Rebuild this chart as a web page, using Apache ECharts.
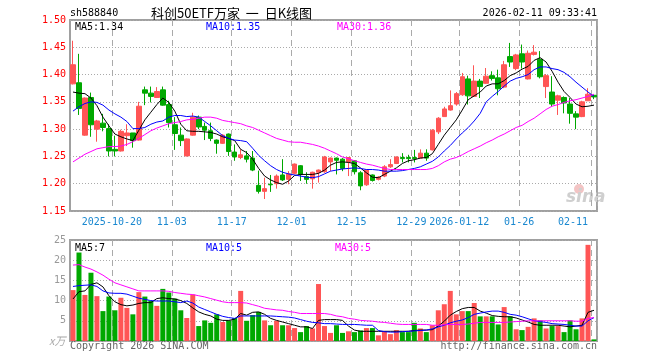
<!DOCTYPE html>
<html><head><meta charset="utf-8">
<script src="https://cdn.jsdelivr.net/npm/echarts@6/dist/echarts.min.js"></script>
<style>html,body{margin:0;padding:0;background:#fff}#c{width:660px;height:360px}</style>
</head><body><div id="c"></div>
<script>
const dates = [
'2025-10-09','2025-10-10','2025-10-13','2025-10-14','2025-10-15','2025-10-16','2025-10-17','2025-10-20','2025-10-21','2025-10-22',
'2025-10-23','2025-10-24','2025-10-27','2025-10-28','2025-10-29','2025-10-30','2025-10-31','2025-11-03','2025-11-04','2025-11-05',
'2025-11-06','2025-11-07','2025-11-10','2025-11-11','2025-11-12','2025-11-13','2025-11-14','2025-11-17','2025-11-18','2025-11-19',
'2025-11-20','2025-11-21','2025-11-24','2025-11-25','2025-11-26','2025-11-27','2025-11-28','2025-12-01','2025-12-02','2025-12-03',
'2025-12-04','2025-12-05','2025-12-08','2025-12-09','2025-12-10','2025-12-11','2025-12-12','2025-12-15','2025-12-16','2025-12-17',
'2025-12-18','2025-12-19','2025-12-22','2025-12-23','2025-12-24','2025-12-25','2025-12-26','2025-12-29','2025-12-30','2025-12-31',
'2026-01-05','2026-01-06','2026-01-07','2026-01-08','2026-01-09','2026-01-12','2026-01-13','2026-01-14','2026-01-15','2026-01-16',
'2026-01-19','2026-01-20','2026-01-21','2026-01-22','2026-01-23','2026-01-26','2026-01-27','2026-01-28','2026-01-29','2026-01-30',
'2026-02-02','2026-02-03','2026-02-04','2026-02-05','2026-02-06','2026-02-09','2026-02-10','2026-02-11'];

const tickDates  = ['2025-10-20','2025-11-03','2025-11-17','2025-12-01','2025-12-15','2025-12-29','2026-01-12','2026-01-26','2026-02-11'];
const tickLabels = ['2025-10-20','11-03','11-17','12-01','12-15','12-29','2026-01-12','01-26','02-11'];
const priceTicks = [1.15,1.20,1.25,1.30,1.35,1.40,1.45,1.50];
const volTicks = [0,5,10,15,20,25];

const opens = [1.383,1.385,1.289,1.358,1.300,1.311,1.301,1.263,1.260,1.288,
1.293,1.280,1.372,1.366,1.358,1.372,1.345,1.308,1.289,1.251,
1.289,1.322,1.305,1.297,1.280,1.274,1.291,1.258,1.248,1.251,
1.247,1.197,1.186,1.199,1.200,1.216,1.208,1.219,1.233,1.213,
1.209,1.221,1.222,1.240,1.247,1.245,1.240,1.242,1.220,1.198,
1.216,1.208,1.214,1.231,1.237,1.248,1.248,1.248,1.247,1.256,
1.262,1.295,1.323,1.335,1.346,1.363,1.392,1.360,1.388,1.384,
1.398,1.394,1.377,1.433,1.411,1.438,1.392,1.437,1.428,1.378,
1.368,1.353,1.358,1.346,1.328,1.323,1.352,1.362];
const closes = [1.418,1.338,1.357,1.308,1.315,1.303,1.260,1.260,1.296,1.293,
1.279,1.342,1.366,1.360,1.369,1.344,1.312,1.292,1.279,1.282,
1.322,1.304,1.298,1.283,1.274,1.289,1.259,1.249,1.253,1.245,
1.225,1.186,1.191,1.198,1.214,1.207,1.218,1.236,1.217,1.208,
1.221,1.225,1.249,1.247,1.243,1.228,1.248,1.222,1.196,1.225,
1.206,1.212,1.231,1.235,1.249,1.246,1.246,1.246,1.256,1.247,
1.298,1.320,1.337,1.343,1.365,1.396,1.361,1.388,1.378,1.397,
1.393,1.374,1.418,1.423,1.436,1.423,1.439,1.441,1.396,1.398,
1.346,1.361,1.348,1.329,1.322,1.350,1.364,1.359];
const lows = [1.382,1.326,1.288,1.286,1.277,1.296,1.250,1.250,1.259,1.269,
1.266,1.279,1.344,1.349,1.357,1.343,1.303,1.262,1.269,1.250,
1.288,1.300,1.280,1.278,1.255,1.273,1.251,1.242,1.245,1.239,
1.223,1.182,1.172,1.185,1.191,1.205,1.199,1.217,1.205,1.200,
1.191,1.202,1.220,1.223,1.217,1.223,1.214,1.217,1.188,1.196,
1.204,1.206,1.212,1.229,1.236,1.239,1.239,1.239,1.247,1.242,
1.261,1.291,1.323,1.334,1.343,1.361,1.345,1.359,1.357,1.383,
1.389,1.362,1.375,1.414,1.408,1.411,1.391,1.435,1.393,1.357,
1.341,1.326,1.329,1.310,1.300,1.322,1.352,1.355];
const highs = [1.462,1.438,1.358,1.367,1.317,1.328,1.309,1.288,1.299,1.309,
1.293,1.350,1.378,1.378,1.377,1.378,1.352,1.322,1.303,1.283,
1.330,1.325,1.312,1.312,1.281,1.291,1.292,1.272,1.263,1.260,
1.260,1.224,1.211,1.216,1.217,1.245,1.223,1.237,1.234,1.221,
1.222,1.226,1.251,1.248,1.248,1.247,1.249,1.243,1.223,1.226,
1.217,1.214,1.234,1.245,1.250,1.256,1.253,1.262,1.263,1.263,
1.300,1.322,1.341,1.371,1.368,1.403,1.398,1.417,1.392,1.412,
1.406,1.409,1.425,1.458,1.438,1.455,1.444,1.454,1.443,1.401,
1.397,1.363,1.360,1.357,1.333,1.352,1.375,1.364];

const ma5 = [1.368,1.366,1.365,1.357,1.343,1.322,1.306,1.291,1.286,1.282,
1.279,1.298,1.317,1.331,1.345,1.357,1.349,1.333,1.309,1.297,
1.296,1.296,1.295,1.294,1.291,1.286,1.283,1.279,1.263,1.257,
1.245,1.228,1.214,1.207,1.202,1.199,1.205,1.215,1.217,1.217,
1.217,1.219,1.225,1.234,1.239,1.240,1.239,1.237,1.229,1.220,
1.212,1.211,1.217,1.223,1.229,1.237,1.242,1.244,1.247,1.248,
1.255,1.272,1.289,1.303,1.317,1.335,1.354,1.361,1.368,1.379,
1.383,1.383,1.389,1.398,1.403,1.410,1.415,1.426,1.431,1.423,
1.406,1.386,1.369,1.358,1.346,1.341,1.342,1.344];
const ma10 = [1.333,1.341,1.347,1.350,1.349,1.344,1.335,1.328,1.322,1.314,
1.301,1.301,1.303,1.309,1.313,1.315,1.322,1.325,1.325,1.323,
1.324,1.322,1.314,1.306,1.297,1.288,1.283,1.280,1.279,1.277,
1.265,1.252,1.242,1.233,1.226,1.221,1.218,1.216,1.214,1.212,
1.211,1.213,1.218,1.223,1.225,1.227,1.228,1.229,1.228,1.226,
1.226,1.225,1.223,1.223,1.223,1.224,1.226,1.228,1.231,1.236,
1.241,1.249,1.260,1.270,1.282,1.293,1.303,1.315,1.329,1.350,
1.360,1.369,1.379,1.388,1.393,1.396,1.400,1.409,1.414,1.414,
1.411,1.409,1.404,1.396,1.386,1.377,1.368,1.360];
const ma30 = [1.240,1.247,1.254,1.259,1.264,1.266,1.268,1.268,1.269,1.272,
1.277,1.283,1.290,1.297,1.302,1.306,1.310,1.312,1.314,1.317,
1.318,1.320,1.322,1.322,1.320,1.316,1.314,1.312,1.310,1.306,
1.303,1.298,1.293,1.288,1.283,1.280,1.277,1.276,1.276,1.274,
1.272,1.269,1.265,1.260,1.255,1.249,1.246,1.242,1.239,1.236,
1.234,1.231,1.228,1.226,1.226,1.226,1.226,1.226,1.226,1.226,
1.228,1.233,1.240,1.245,1.248,1.253,1.259,1.264,1.269,1.275,
1.280,1.286,1.291,1.297,1.303,1.307,1.314,1.320,1.328,1.336,
1.342,1.345,1.349,1.352,1.354,1.357,1.360,1.364];

const volumes = [12.6,21.9,11.4,16.9,11.1,7.4,11.0,7.6,10.7,8.2,
6.6,12.1,11.0,9.9,8.7,12.9,12.0,10.5,7.6,5.7,
11.5,3.7,5.1,4.5,6.6,4.7,5.1,5.7,12.4,5.0,
6.4,7.2,5.1,3.9,5.0,3.9,3.9,3.2,2.2,3.7,
3.1,14.1,3.7,2.0,3.9,2.0,2.4,2.2,2.6,3.2,
3.2,1.4,2.4,1.7,2.7,2.2,2.2,4.5,3.1,2.2,
3.9,7.6,9.1,12.4,6.6,7.4,7.4,9.4,6.1,6.1,
6.1,4.1,8.4,6.1,2.9,2.7,3.5,5.6,5.1,3.1,
3.7,3.7,2.2,5.1,2.9,5.6,23.8,0.4];
const volMa5 = [10.4,12.2,12.4,14.0,14.4,13.4,11.2,9.7,9.0,8.7,
8.9,9.3,9.5,9.5,10.5,10.7,10.5,10.4,10.0,9.3,
8.2,7.2,6.6,6.2,5.4,5.1,5.1,5.4,6.8,6.4,
7.1,7.2,6.6,5.6,5.1,4.7,4.3,3.9,3.5,3.5,
3.1,5.1,5.3,5.3,5.3,5.1,3.7,2.7,2.4,2.4,
2.4,2.4,2.4,2.4,2.4,2.4,2.4,2.6,2.7,2.7,
2.8,3.7,4.9,6.4,7.3,8.0,8.3,8.3,7.4,6.9,
6.3,6.1,6.0,6.0,5.7,5.2,4.7,4.1,3.9,3.9,
3.9,3.9,3.7,3.5,3.7,3.9,7.1,7.6];
const volMa10 = [13.5,13.7,13.8,13.9,13.5,12.4,11.9,11.8,11.8,11.6,
11.1,10.6,10.3,10.0,9.9,9.9,9.9,9.7,9.5,9.9,
9.4,8.4,7.8,7.2,6.6,6.1,5.8,5.6,6.2,6.2,
6.2,6.2,6.2,6.2,6.1,6.0,5.9,5.7,5.3,4.9,
4.6,4.5,4.3,4.3,4.2,4.1,4.1,4.1,4.0,3.9,
3.9,2.6,2.3,2.2,2.2,2.3,2.4,2.5,2.6,2.7,
3.0,3.5,3.9,4.5,4.9,5.2,5.8,6.6,6.9,7.2,
7.4,7.4,7.1,6.6,6.4,6.0,5.5,5.0,4.8,4.6,
4.3,4.2,4.1,3.9,3.7,3.7,5.0,5.8];
const volMa30 = [18.8,18.9,18.3,17.8,17.1,16.3,15.3,14.4,13.9,13.4,
12.9,12.4,12.4,12.4,12.4,12.4,12.3,12.0,11.8,11.6,
11.5,11.2,10.9,10.5,10.1,9.7,9.5,9.5,9.5,9.4,
9.0,8.6,8.1,7.9,7.7,7.6,7.3,7.1,6.8,6.8,
6.8,6.8,6.8,6.6,6.2,6.0,5.6,5.4,5.1,5.0,
4.9,4.7,4.6,4.4,4.2,4.1,4.1,4.1,4.1,4.1,
3.9,3.9,4.0,4.1,4.1,4.1,4.2,4.4,4.6,4.6,
4.6,4.6,4.6,4.7,4.8,4.9,5.0,5.0,5.0,5.0,
5.0,5.0,5.0,5.0,4.9,4.9,5.6,5.8];

const UP = '#ff5555', DOWN = '#00a800';
const MONO = '"DejaVu Sans Mono", "Liberation Mono", monospace';
const isTick = (i) => tickDates.indexOf(dates[i]) >= 0;
const vline = {show:true, interval:(i)=>isTick(i), lineStyle:{color:'#aaaaaa', width:1, type:[6,4]}};
const hline = {show:true, lineStyle:{color:'#aaaaaa', width:1, type:[1,2]}};

const chart = echarts.init(document.getElementById('c'), null, {renderer:'canvas'});
const txt = (x, y, s, color, extra) => ({type:'text', x:x, y:y, style:Object.assign({text:s, fill:color, font:'10px ' + MONO, textVerticalAlign:'middle'}, extra||{})});
chart.setOption({
  animation:false,
  backgroundColor:'#ffffff',
  grid:[
    {left:70, top:20, width:527, height:191, show:true, borderColor:'#a0a0a0', borderWidth:2, backgroundColor:'transparent'},
    {left:70, top:240, width:527, height:101, show:true, borderColor:'#a0a0a0', borderWidth:2, backgroundColor:'transparent'}
  ],
  xAxis:[
    {gridIndex:0, type:'category', data:dates, boundaryGap:true,
     axisLine:{show:false}, axisTick:{show:false},
     axisLabel:{interval:(i)=>isTick(i), formatter:(v)=>tickLabels[tickDates.indexOf(v)],
       color:'#1a88d0', fontFamily:MONO, fontSize:10, margin:6, padding:[0,6,0,0], alignMaxLabel:'right'},
     splitLine:vline},
    {gridIndex:1, type:'category', data:dates, boundaryGap:true,
     axisLine:{show:false}, axisTick:{show:false}, axisLabel:{show:false}, splitLine:vline}
  ],
  yAxis:[
    {gridIndex:0, type:'value', min:priceTicks[0], max:priceTicks[priceTicks.length-1], interval:0.05,
     axisLine:{show:false}, axisTick:{show:false},
     axisLabel:{color:'#ff0000', fontFamily:MONO, fontSize:10, margin:4, formatter:(v)=>v.toFixed(2)},
     splitLine:hline},
    {gridIndex:1, type:'value', min:volTicks[0], max:volTicks[volTicks.length-1], interval:5,
     axisLine:{show:false}, axisTick:{show:false},
     axisLabel:{color:'#999999', fontFamily:MONO, fontSize:10, margin:4, formatter:(v)=> v===0 ? '' : String(v)},
     splitLine:hline}
  ],
  series:[
    {type:'candlestick', xAxisIndex:0, yAxisIndex:0, barWidth:5,
     data:opens.map((o,i)=>[o, closes[i], lows[i], highs[i]]),
     itemStyle:{color:UP, color0:DOWN, borderColor:UP, borderColor0:DOWN, borderWidth:1}},
    {type:'line', xAxisIndex:0, yAxisIndex:0, data:ma5, symbol:'none', lineStyle:{color:'#000000', width:1}},
    {type:'line', xAxisIndex:0, yAxisIndex:0, data:ma10, symbol:'none', lineStyle:{color:'#0000ff', width:1}},
    {type:'line', xAxisIndex:0, yAxisIndex:0, data:ma30, symbol:'none', lineStyle:{color:'#ff00ff', width:1}},
    {type:'bar', xAxisIndex:1, yAxisIndex:1, barWidth:5,
     data:volumes.map((v,i)=>({value:v, itemStyle:{color: closes[i] >= opens[i] ? UP : DOWN}}))},
    {type:'line', xAxisIndex:1, yAxisIndex:1, data:volMa5, symbol:'none', lineStyle:{color:'#000000', width:1}},
    {type:'line', xAxisIndex:1, yAxisIndex:1, data:volMa10, symbol:'none', lineStyle:{color:'#0000ff', width:1}},
    {type:'line', xAxisIndex:1, yAxisIndex:1, data:volMa30, symbol:'none', lineStyle:{color:'#ff00ff', width:1}}
  ],
  graphic:[
    txt(70, 13, 'sh588840', '#000000'),
    {type:'text', x:151, y:13, style:{text:'科创50ETF万家  一  日K线图', fill:'#000000', font:'13px "Noto Sans CJK SC"', textVerticalAlign:'middle'}},
    txt(597, 13, '2026-02-11 09:33:41', '#000000', {textAlign:'right'}),
    txt(75, 27, 'MA5:1.34', '#000000'),
    txt(206, 27, 'MA10:1.35', '#0000ff'),
    txt(337, 27, 'MA30:1.36', '#ff00ff'),
    txt(75, 248, 'MA5:7', '#000000'),
    txt(206, 248, 'MA10:5', '#0000ff'),
    txt(335, 248, 'MA30:5', '#ff00ff'),
    txt(70, 346, 'Copyright 2026 SINA.COM', '#666666'),
    txt(597, 346, 'http://finance.sina.com.cn', '#666666', {textAlign:'right'}),
    {type:'text', x:49, y:341, style:{text:'x万', fill:'#aaaaaa', font:'italic 11px "Noto Sans CJK SC"', textVerticalAlign:'middle'}},
    {type:'circle', shape:{cx:579, cy:189, r:5}, style:{fill:'#f3c4c4'}, silent:true},
    {type:'text', x:566, y:198, style:{text:'sina', fill:'#cfcfcf', font:'italic bold 17px "DejaVu Sans"', textVerticalAlign:'middle'}, silent:true}
  ]
});
</script></body></html>
